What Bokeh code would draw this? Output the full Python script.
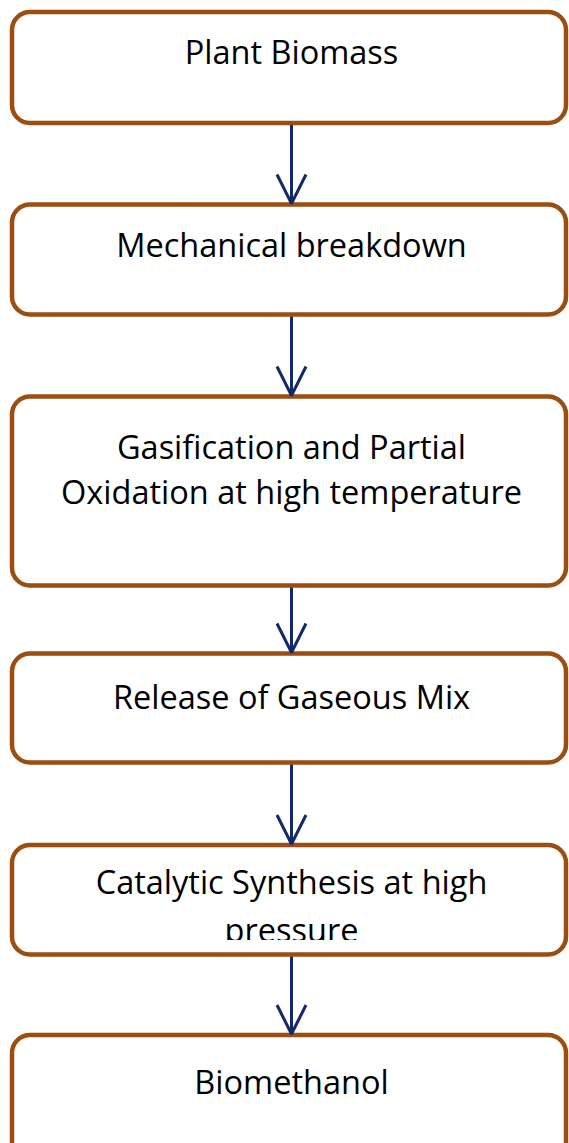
from bokeh.plotting import figure
from bokeh.models import Range1d, ColumnDataSource, Arrow, OpenHead
from bokeh.core.properties import value
from bokeh.embed import file_html
from bokeh.resources import INLINE

# ---- content ----
steps = [
    ["Plant Biomass"],
    ["Mechanical breakdown"],
    ["Gasification and Partial", "Oxidation at high temperature"],
    ["Release of Gaseous Mix"],
    ["Catalytic Synthesis at high", "pressure"],
    ["Biomethanol"],
]

# ---- layout (page pixel coordinates) ----
box_left, box_right = 11.5, 565.5
box_top = [11.5, 204, 396, 653, 844.5, 1034.5]
box_bottom = [122.5, 314, 585, 762, 954, 1160]
text_baselines = [[51], [244], [446, 491], [696], [881, 928.5], [1081]]
text_x = 291
arrow_x = 291
clip_text = {4: 939.5}  # second line of box 5 is cut by the box

BORDER = "#9C4D10"
ARROW = "#12296B"
FONT = "Open Sans"

p = figure(width=569, height=1143, output_backend="svg", toolbar_location=None,
           x_axis_type=None, y_axis_type=None,
           x_range=Range1d(0, 569), y_range=Range1d(1143, 0),
           min_border=0)
p.outline_line_color = None
p.grid.visible = False
p.background_fill_color = "white"
p.border_fill_color = "white"

for i in range(len(steps)):
    h = min(box_bottom[i] - box_top[i], 111)
    r = max(12, round(h / 6))
    p.quad(left=[box_left], right=[box_right], top=[box_top[i]], bottom=[box_bottom[i]],
           fill_color="white", line_color=BORDER, line_width=4.5, border_radius=r)
    lines = steps[i]
    p.text(x=[text_x] * len(lines), y=text_baselines[i], text=lines,
           text_font=value(FONT), text_font_size="32.5px", text_color="#000000",
           text_align="center", text_baseline="alphabetic")
    if i in clip_text:
        p.quad(left=[60], right=[520], top=[clip_text[i]], bottom=[box_bottom[i] - 2.4],
               fill_color="white", line_color=None)

src = ColumnDataSource(dict(
    x0=[arrow_x] * (len(steps) - 1),
    y0=[b + 2 for b in box_bottom[:-1]],
    x1=[arrow_x] * (len(steps) - 1),
    y1=[t - 1 for t in box_top[1:]],
))
p.add_layout(Arrow(end=OpenHead(size=29, line_color=ARROW, line_width=3),
                   x_start="x0", y_start="y0", x_end="x1", y_end="y1",
                   line_color=ARROW, line_width=3, source=src))

open("out.html", "w").write(file_html(p, INLINE))
